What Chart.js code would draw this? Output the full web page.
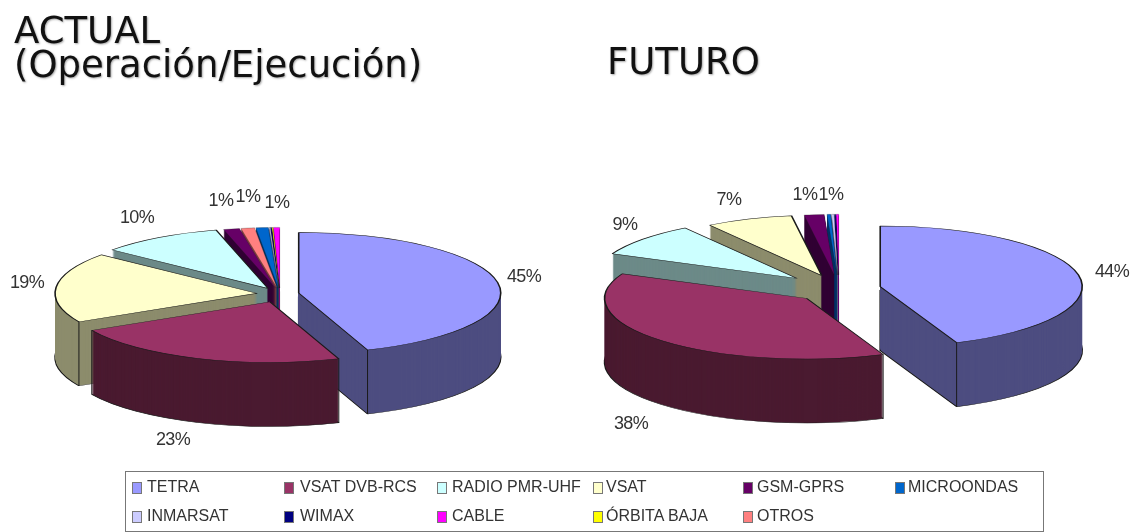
<!DOCTYPE html>
<html lang="es">
<head>
<meta charset="utf-8">
<title>ACTUAL / FUTURO</title>
<script src="https://cdn.jsdelivr.net/npm/chart.js@4"></script>
<style>
html,body{margin:0;padding:0;background:#fff;width:1136px;height:532px;overflow:hidden}
canvas{position:absolute;top:0;filter:blur(.6px)}
.title{position:absolute;font-family:"DejaVu Sans",sans-serif;color:#111;font-size:37px;line-height:34px;text-shadow:1px 1px 2px #aaa;white-space:pre;filter:blur(.45px)}
#legend{position:absolute;left:125px;top:471px;width:917px;height:59px;border:1px solid #777;filter:blur(.6px)}
.item{position:absolute;font:16px "Liberation Sans",sans-serif;letter-spacing:0;color:#333;white-space:pre;line-height:16px}
.sw{position:absolute;width:8px;height:10px;border:1px solid #777}
</style>
</head>
<body>
<div class="title" style="left:14px;top:14px">ACTUAL
(Operación/Ejecución)</div>
<div class="title" style="left:607px;top:45px">FUTURO</div>
<canvas id="actual" width="568" height="532" style="left:0"></canvas>
<canvas id="futuro" width="568" height="532" style="left:568px"></canvas>
<div id="legend"></div>
<script>
// Legend order
const legendCategories = ['TETRA','VSAT DVB-RCS','RADIO PMR-UHF','VSAT','GSM-GPRS','MICROONDAS','INMARSAT','WIMAX','CABLE','ÓRBITA BAJA','OTROS'];

// ACTUAL: slices clockwise from 12 o'clock
const actualCategories = ['TETRA','VSAT DVB-RCS','VSAT','RADIO PMR-UHF','GSM-GPRS','OTROS','MICROONDAS','INMARSAT','WIMAX','ÓRBITA BAJA','CABLE'];
const actualValues = [45,23,19,10,1.3,1.1,1,0.1,0.1,0.1,0.5];
const actualLabels = ['45%','23%','19%','10%','1%','1%','1%'];

// FUTURO: slices clockwise from 12 o'clock
const futuroCategories = ['TETRA','VSAT DVB-RCS','RADIO PMR-UHF','VSAT','GSM-GPRS','MICROONDAS','INMARSAT','WIMAX','CABLE'];
const futuroValues = [44,38,9,7,1.6,0.3,0.2,0.1,0.2];
const futuroLabels = ['44%','38%','9%','7%','1%','1%'];

// Styling
const topColors = {'TETRA':'#9999FF','VSAT DVB-RCS':'#993366','RADIO PMR-UHF':'#CCFFFF','VSAT':'#FFFFCC','GSM-GPRS':'#660066','MICROONDAS':'#0066CC','INMARSAT':'#CCCCFF','WIMAX':'#000080','CABLE':'#FF00FF','ÓRBITA BAJA':'#FFFF00','OTROS':'#FF8080'};
const sideColors = {'TETRA':'#4D4D80','VSAT DVB-RCS':'#4A1A30','RADIO PMR-UHF':'#6C8A88','VSAT':'#8C8C6C','GSM-GPRS':'#300033','MICROONDAS':'#003366','INMARSAT':'#666680','WIMAX':'#000040','CABLE':'#800080','ÓRBITA BAJA':'#808000','OTROS':'#804040'};
const actualExplode = [19,28,23,22,20,20,20,20,20,20,20];
const futuroExplode = [42,45,55,48,47,47,47,47,47];
const actualLabelPos = [[524,277],[173,440],[27,283],[137,218],[221,201],[248,197],[277,203]];
const futuroLabelPos = [[544,272],[63,424],[57,225],[161,200],[237,195],[263,195]];

const squash = 0.3, depth = 64, radius = 202;

function pie3d(X, Y, explode, labels, labelPos){
  return {
    id:'pie3d',
    beforeDatasetsDraw(chart){
      const ctx = chart.ctx, arcs = chart.getDatasetMeta(0).data;
      const cats = chart.data.labels;
      const midOf = a => (a.startAngle+a.endAngle)/2;
      const order = arcs.map((a,i)=>i).sort((p,q)=>Math.sin(midOf(arcs[p]))-Math.sin(midOf(arcs[q])));
      order.forEach(i=>{
        const arc = arcs[i], base = arc.options, side = sideColors[cats[i]];
        const mid = midOf(arc), e = explode[i];
        const ox = X + Math.cos(mid)*e, oy = Y + squash*Math.sin(mid)*e;
        const at = dy => { ctx.translate(ox, oy+dy); ctx.scale(1,squash); ctx.translate(-arc.x,-arc.y); };
        arc.options = Object.assign({}, base, {backgroundColor:side,borderColor:'#1a1a1a'});
        ctx.save(); at(depth); arc.draw(ctx); ctx.restore();
        arc.options = Object.assign({}, base, {backgroundColor:side,borderColor:side,borderWidth:0});
        for(let d=depth-1;d>0;d--){ ctx.save(); at(d); arc.draw(ctx); ctx.restore(); }
        ctx.strokeStyle='#1a1a1a'; ctx.lineWidth=1;
        [arc.startAngle,arc.endAngle].forEach(a=>{
          if(Math.sin(a)>0.1 && base.borderWidth>1){
            const px = ox + arc.outerRadius*Math.cos(a);
            const py = oy + squash*arc.outerRadius*Math.sin(a);
            ctx.beginPath(); ctx.moveTo(px,py); ctx.lineTo(px,py+depth); ctx.stroke();
          }
        });
        arc.options = base;
        ctx.save(); at(0); arc.draw(ctx); ctx.restore();
      });
      ctx.save();
      ctx.font='18px "Liberation Sans", sans-serif';
      ctx.letterSpacing='-0.6px';
      ctx.fillStyle='#333'; ctx.textAlign='center'; ctx.textBaseline='middle';
      labels.forEach((t,i)=>ctx.fillText(t,labelPos[i][0],labelPos[i][1]));
      ctx.restore();
      return false;
    }
  };
}

function makePie(id, categories, values, explode, labels, labelPos, X, Y){
  return new Chart(document.getElementById(id),{
    type:'pie',
    data:{labels:categories,datasets:[{
      data:values,
      backgroundColor:categories.map(c=>topColors[c]),
      borderColor:'#1a1a1a',
      borderWidth:c=>values[c.dataIndex]<5?0.4:1.6,
      hoverOffset:0
    }]},
    options:{
      responsive:false,animation:false,radius:radius,
      events:[],
      layout:{padding:0},
      plugins:{legend:{display:false},title:{display:false},tooltip:{enabled:false}}
    },
    plugins:[pie3d(X,Y,explode,labels,labelPos)]
  });
}

makePie('actual',actualCategories,actualValues,actualExplode,actualLabels,actualLabelPos,280,294);
makePie('futuro',futuroCategories,futuroValues,futuroExplode,futuroLabels,futuroLabelPos,271,289);

// Legend
const swatchCols = [6,158,311,467,617,769];
const textCols = [21,174,326,480,631,782];
const legendEl = document.getElementById('legend');
legendCategories.forEach((c,i)=>{
  const col = i%6, row = Math.floor(i/6);
  const y = row?36:7;
  const sw = document.createElement('div');
  sw.className='sw'; sw.style.left=swatchCols[col]+'px'; sw.style.top=(y+3)+'px'; sw.style.background=topColors[c];
  legendEl.appendChild(sw);
  const t = document.createElement('div');
  t.className='item'; t.style.left=textCols[col]+'px'; t.style.top=y+'px'; t.textContent=c;
  legendEl.appendChild(t);
});
</script>
</body>
</html>
